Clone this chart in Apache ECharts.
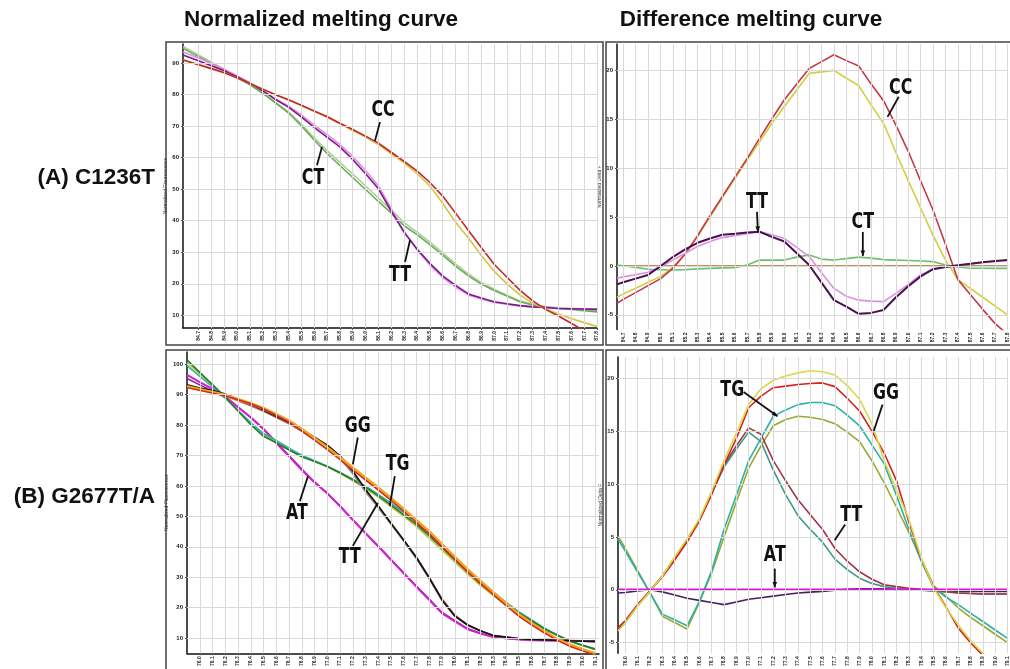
<!DOCTYPE html>
<html>
<head>
<meta charset="utf-8">
<script src="https://cdn.jsdelivr.net/npm/echarts@6.0.0/dist/echarts.min.js"></script>
<style>
  html, body { margin: 0; padding: 0; background: #fff; }
  #chart { width: 1010px; height: 669px; }
</style>
</head>
<body>
<div id="chart"></div>
<script>
// temperature tick labels (deg C)
var ticksA = [84.7, 84.8, 84.9, 85.0, 85.1, 85.2, 85.3, 85.4, 85.5, 85.6, 85.7, 85.8, 85.9, 86.0, 86.1, 86.2,
              86.3, 86.4, 86.5, 86.6, 86.7, 86.8, 86.9, 87.0, 87.1, 87.2, 87.3, 87.4, 87.5, 87.6, 87.7, 87.8];
var ticksB = [76.0, 76.1, 76.2, 76.3, 76.4, 76.5, 76.6, 76.7, 76.8, 76.9, 77.0, 77.1, 77.2, 77.3, 77.4, 77.5,
              77.6, 77.7, 77.8, 77.9, 78.0, 78.1, 78.2, 78.3, 78.4, 78.5, 78.6, 78.7, 78.8, 78.9, 79.0, 79.1];
var yTicksTL = [10, 20, 30, 40, 50, 60, 70, 80, 90];
var yTicksBL = [10, 20, 30, 40, 50, 60, 70, 80, 90, 100];
var yTicksDiff = [-5, 0, 5, 10, 15, 20];

// x of each reading: first point sits on the axis, then one per tick
var tlX = [84.58].concat(ticksA);
var trX = [84.65].concat(ticksA);
var blX = [75.9].concat(ticksB);
var brX = [75.94].concat(ticksB);

// (A) C1236T normalized melting curve
var tlCC1 = [90.9, 89.4, 88.2, 86.9, 85.3, 83.5, 81.7, 79.9, 78.3, 76.6, 74.8, 73.0, 70.9, 68.9, 66.8, 64.6, 61.7, 58.8, 55.8, 52.1, 47.8, 42.4, 36.9, 31.5, 26.2, 22.1, 18.0, 14.6, 11.9, 9.8, 7.5, 5.1, 3.0];
var tlCC2 = [91.0, 89.6, 88.3, 87.0, 85.3, 83.5, 81.7, 79.9, 78.3, 76.5, 74.7, 72.8, 70.7, 68.6, 66.5, 64.1, 61.2, 58.3, 55.0, 51.0, 45.5, 39.5, 34.5, 29.0, 24.0, 20.0, 16.5, 13.8, 12.0, 10.4, 9.0, 7.7, 6.5];
var tlCT1 = [94.6, 92.0, 89.8, 87.7, 85.4, 83.1, 80.4, 77.3, 74.2, 70.1, 65.6, 61.3, 57.5, 53.7, 49.9, 46.1, 42.4, 38.4, 35.6, 32.4, 29.1, 25.6, 22.5, 19.9, 17.9, 16.1, 14.3, 13.3, 12.6, 12.2, 11.9, 11.5, 11.1];
var tlCT2 = [95.2, 92.5, 90.2, 88.0, 85.6, 83.2, 80.5, 77.5, 74.5, 70.6, 66.3, 62.2, 58.5, 54.8, 51.0, 47.2, 43.4, 39.4, 36.4, 33.2, 29.8, 26.3, 23.1, 20.4, 18.3, 16.4, 14.6, 13.5, 12.8, 12.4, 12.1, 11.8, 11.5];
var tlTT1 = [92.5, 90.7, 89.1, 87.5, 85.6, 83.6, 81.2, 78.4, 76.0, 72.9, 69.6, 66.5, 63.4, 59.4, 54.9, 50.1, 43.0, 36.3, 31.0, 26.5, 22.5, 19.5, 16.8, 15.5, 14.3, 13.7, 13.1, 12.7, 12.5, 12.2, 12.1, 12.0, 11.9];
var tlTT2 = [93.5, 91.6, 89.8, 88.0, 85.9, 83.7, 81.2, 78.6, 76.4, 73.5, 70.4, 67.3, 64.2, 60.3, 55.9, 51.0, 43.8, 36.5, 30.8, 26.0, 22.0, 19.0, 16.5, 15.2, 14.1, 13.5, 13.0, 12.7, 12.5, 12.3, 12.2, 12.1, 12.0];

// (A) C1236T difference curve
var trCC1 = [-3.82, -3.42, -2.73, -2.01, -1.32, -0.25, 1.23, 3.09, 5.14, 7.1, 9.06, 11.0, 13.05, 15.05, 17.0, 18.6, 20.2, 20.9, 21.6, 21.0, 20.45, 18.6, 16.9, 14.4, 11.7, 8.66, 5.7, 2.2, -1.4, -2.92, -4.44, -5.9, -7.0];
var trCC2 = [-3.2, -2.86, -2.28, -1.67, -1.09, -0.14, 1.23, 3.0, 5.0, 7.0, 8.9, 10.8, 12.7, 14.6, 16.3, 18.0, 19.7, 19.85, 20.0, 19.2, 18.45, 16.45, 14.6, 11.6, 8.7, 5.9, 3.1, 0.6, -1.4, -2.3, -3.2, -4.1, -5.0];
var trTT1 = [-1.88, -1.67, -1.3, -0.92, -0.03, 0.91, 1.7, 2.37, 2.8, 3.19, 3.3, 3.43, 3.5, 2.98, 2.5, 1.3, 0.1, -1.7, -3.5, -4.17, -4.9, -4.8, -4.5, -3.2, -2.07, -1.07, -0.33, -0.1, 0.07, 0.22, 0.37, 0.5, 0.6];
var trTT2 = [-1.26, -1.12, -0.9, -0.65, -0.1, 0.6, 1.3, 2.0, 2.5, 2.9, 3.1, 3.3, 3.5, 3.2, 2.8, 1.9, 0.96, -0.7, -2.3, -3.1, -3.5, -3.6, -3.65, -2.8, -1.9, -0.9, -0.3, -0.1, 0.05, 0.2, 0.35, 0.45, 0.55];
var trCT1 = [0.1, 0.02, -0.15, -0.34, -0.38, -0.41, -0.38, -0.3, -0.25, -0.2, -0.17, 0.1, 0.6, 0.6, 0.6, 0.9, 1.13, 0.7, 0.6, 0.75, 0.9, 0.8, 0.65, 0.6, 0.55, 0.5, 0.44, 0.1, -0.1, -0.24, -0.24, -0.25, -0.25];
var trCT2 = [0, 0, 0, 0, 0, 0, 0, 0, 0, 0, 0, 0, 0, 0, 0, 0, 0, 0, 0, 0, 0, 0, 0, 0, 0, 0, 0, 0, 0, 0, 0, 0, 0];

// (B) G2677T/A normalized melting curve
var blGG1 = [92.7, 91.7, 90.8, 89.8, 88.4, 87.1, 85.5, 83.5, 81.4, 78.6, 75.6, 72.6, 69.3, 65.9, 62.6, 59.3, 55.9, 52.3, 48.6, 44.9, 40.7, 36.5, 32.5, 28.7, 25.0, 21.4, 17.8, 14.9, 12.2, 9.7, 7.8, 6.3, 4.9];
var blGG2 = [92.3, 91.4, 90.5, 89.6, 88.3, 87.0, 85.3, 83.2, 81.0, 78.1, 75.0, 71.9, 68.6, 65.2, 61.9, 58.6, 55.2, 51.6, 47.9, 44.2, 40.0, 35.8, 31.8, 28.0, 24.3, 20.7, 17.2, 14.3, 11.7, 9.3, 7.3, 5.8, 4.4];
var blTG1 = [101.4, 97.3, 93.3, 89.2, 84.6, 80.1, 76.3, 74.2, 71.8, 69.6, 68.0, 66.4, 64.3, 62.0, 59.6, 56.7, 53.7, 50.5, 47.3, 43.6, 39.7, 35.7, 31.7, 27.9, 24.6, 21.3, 18.3, 15.7, 13.1, 11.0, 9.0, 7.6, 6.3];
var blTG2 = [99.5, 96.0, 92.5, 88.8, 84.8, 80.8, 77.2, 74.9, 72.4, 70.1, 68.3, 66.5, 64.4, 62.2, 59.9, 57.2, 54.3, 51.2, 48.0, 44.3, 40.4, 36.4, 32.4, 28.6, 25.1, 21.8, 18.7, 16.0, 13.3, 11.1, 9.1, 7.7, 6.5];
var blTG3 = [100.5, 96.8, 93.0, 89.0, 84.7, 80.4, 76.8, 74.6, 72.1, 69.8, 68.1, 66.3, 64.1, 61.7, 59.2, 56.3, 53.2, 50.0, 46.6, 42.8, 38.9, 35.0, 31.0, 27.3, 24.0, 20.8, 17.9, 15.4, 12.9, 10.9, 8.9, 7.5, 6.2];
var blTT1 = [93.2, 92.2, 91.3, 90.2, 88.5, 86.8, 84.9, 82.9, 80.9, 78.5, 76.0, 73.4, 69.9, 64.9, 58.8, 53.4, 47.7, 42.1, 36.4, 29.7, 22.5, 17.2, 14.3, 12.4, 10.8, 10.3, 9.8, 9.5, 9.4, 9.3, 9.1, 9.0, 8.9];
var blTT2 = [92.8, 91.9, 91.0, 90.0, 88.4, 86.7, 84.8, 82.8, 80.7, 78.2, 75.6, 72.9, 69.2, 64.0, 58.0, 52.8, 47.3, 41.8, 36.0, 29.4, 22.3, 17.2, 14.2, 12.3, 10.8, 10.2, 9.7, 9.5, 9.3, 9.2, 9.1, 9.0, 8.9];
var blTT3 = [92.5, 91.6, 90.7, 89.7, 88.0, 86.3, 84.5, 82.5, 80.4, 77.9, 75.3, 72.6, 69.0, 64.2, 58.5, 53.2, 47.6, 42.2, 36.5, 29.9, 22.8, 17.5, 14.4, 12.4, 10.9, 10.3, 9.8, 9.6, 9.4, 9.3, 9.2, 9.1, 9.0];
var blAT1 = [96.5, 94.1, 91.9, 89.4, 85.9, 82.5, 78.6, 74.1, 69.7, 65.2, 61.1, 57.5, 53.3, 48.8, 44.4, 40.1, 35.6, 31.2, 26.8, 22.5, 18.1, 15.5, 12.9, 11.5, 10.3, 9.9, 9.5, 9.3, 9.2, 9.1, 9.0, 9.0, 8.9];
var blAT2 = [95.3, 93.2, 91.2, 89.0, 85.8, 82.5, 78.8, 74.4, 70.0, 65.5, 61.3, 57.6, 53.4, 48.9, 44.5, 40.2, 35.8, 31.4, 27.0, 22.7, 18.4, 15.7, 13.1, 11.6, 10.4, 9.9, 9.6, 9.4, 9.3, 9.2, 9.1, 9.0, 9.0];

// (B) G2677T/A difference curve
var brGG1 = [-3.9, -3.1, -1.5, -0.15, 1.3, 3.1, 4.8, 6.7, 9.3, 12.2, 14.8, 17.5, 19.0, 19.8, 20.2, 20.5, 20.7, 20.6, 20.3, 19.3, 18.0, 15.7, 12.2, 9.4, 6.7, 3.0, 0.2, -1.7, -3.3, -4.8, -6.0, -7.0, -8.0];
var brGG2 = [-3.6, -2.9, -1.4, -0.1, 1.2, 2.8, 4.5, 6.5, 9.0, 11.8, 14.3, 17.2, 18.3, 19.1, 19.25, 19.4, 19.5, 19.55, 19.2, 18.1, 16.9, 15.0, 12.9, 10.3, 6.4, 2.9, 0.3, -1.6, -3.6, -5.0, -6.2, -7.2, -8.2];
var brTG1 = [4.8, 3.64, 1.64, -0.3, -2.3, -2.84, -3.4, -1.1, 1.79, 5.7, 8.9, 12.2, 14.3, 16.4, 17.0, 17.5, 17.7, 17.7, 17.4, 16.5, 15.5, 13.7, 11.9, 8.9, 5.7, 2.7, 0.2, -0.7, -1.4, -2.2, -3.0, -3.8, -4.6];
var brTG2 = [5.1, 3.9, 1.8, -0.3, -2.5, -3.1, -3.7, -1.2, 1.6, 5.0, 8.3, 11.5, 13.6, 15.5, 16.1, 16.4, 16.3, 16.1, 15.7, 14.9, 14.0, 12.2, 10.1, 7.8, 5.4, 2.9, 0.4, -0.6, -1.7, -2.6, -3.4, -4.2, -5.0];
var brTT1 = [-3.7, -3.0, -1.4, -0.1, 1.3, 3.0, 4.7, 6.6, 9.2, 11.8, 13.6, 15.3, 14.7, 12.2, 10.3, 8.5, 7.1, 5.7, 3.9, 2.7, 1.7, 1.0, 0.47, 0.3, 0.15, 0.05, -0.05, -0.15, -0.3, -0.35, -0.4, -0.4, -0.4];
var brTT2 = [-3.8, -3.1, -1.5, -0.15, 1.3, 3.0, 4.7, 6.6, 9.1, 11.6, 13.3, 14.9, 14.0, 11.3, 9.0, 7.0, 5.7, 4.5, 2.9, 1.9, 1.1, 0.6, 0.3, 0.15, 0.05, 0.0, -0.1, -0.2, -0.3, -0.35, -0.4, -0.4, -0.4];
var brAT1 = [-0.3, -0.25, -0.1, 0.0, -0.2, -0.5, -0.8, -1.0, -1.2, -1.4, -1.15, -0.9, -0.75, -0.6, -0.45, -0.3, -0.22, -0.15, -0.05, 0.05, 0.1, 0.1, 0.1, 0.05, 0.0, -0.05, -0.1, -0.15, -0.15, -0.15, -0.15, -0.15, -0.15];
var brAT2 = [0, 0, 0, 0, 0, 0, 0, 0, 0, 0, 0, 0, 0, 0, 0, 0, 0, 0, 0, 0, 0, 0, 0, 0, 0, 0, 0, 0, 0, 0, 0, 0, 0];

// genotype call-outs, in data units of each panel
var notes = [
  { g: 0, text: 'CC', at: [86.136, 75.1], from: [86.112, 71.3], to: [86.073, 65.3] },
  { g: 0, text: 'CT', at: [85.591, 53.5], from: [85.622, 57.6], to: [85.661, 63.4] },
  { g: 0, text: 'TT', at: [86.268, 22.8], from: [86.307, 26.9], to: [86.346, 33.9] },
  { g: 1, text: 'CC', at: [86.938, 18.2], from: [86.923, 17.3], to: [86.832, 15.25] },
  { g: 1, text: 'TT', at: [85.779, 6.55], from: [85.779, 5.53], to: [85.787, 3.48], arrow: true },
  { g: 1, text: 'CT', at: [86.633, 4.5], from: [86.633, 3.48], to: [86.633, 1.02], arrow: true },
  { g: 2, text: 'GG', at: [77.239, 79.5], from: [77.239, 75.9], to: [77.2, 67.1] },
  { g: 2, text: 'TG', at: [77.552, 67.1], from: [77.529, 63.2], to: [77.49, 53.4] },
  { g: 2, text: 'AT', at: [76.761, 51.1], from: [76.785, 55.0], to: [76.848, 63.2] },
  { g: 2, text: 'TT', at: [77.176, 36.4], from: [77.2, 40.3], to: [77.396, 54.4] },
  { g: 3, text: 'TG', at: [76.867, 18.9], from: [76.959, 18.7], to: [77.234, 16.4], arrow: true },
  { g: 3, text: 'GG', at: [78.114, 18.6], from: [78.086, 17.5], to: [78.015, 15.0] },
  { g: 3, text: 'TT', at: [77.832, 7.0], from: [77.783, 6.17], to: [77.698, 4.68] },
  { g: 3, text: 'AT', at: [77.212, 3.3], from: [77.212, 2.0], to: [77.212, 0.22], arrow: true }
];

function pts(xs, ys) {
  return xs.map(function (x, i) { return [x, ys[i]]; });
}

function line(gi, xs, ys, color, w) {
  return {
    type: 'line', xAxisIndex: gi, yAxisIndex: gi,
    data: pts(xs, ys), symbol: 'none', silent: true,
    lineStyle: { color: color, width: w || 1.6 },
    itemStyle: { color: color }
  };
}

// grid lines at the tick values (the axis' own split lines ignore customValues)
function gridLines(gi, xt, yt) {
  var d = xt.map(function (t) { return { xAxis: t }; })
    .concat(yt.map(function (t) { return { yAxis: t }; }));
  return {
    type: 'line', xAxisIndex: gi, yAxisIndex: gi, data: [], z: 1, silent: true,
    markLine: {
      silent: true, symbol: ['none', 'none'], animation: false,
      label: { show: false },
      lineStyle: { color: '#d9d9d9', width: 1, type: 'solid' },
      emphasis: { disabled: true },
      data: d
    }
  };
}

function xAx(gi, min, max, ticks) {
  return {
    type: 'value', gridIndex: gi, min: min, max: max,
    axisLine: { lineStyle: { color: '#111', width: 1.5 } },
    axisTick: { customValues: ticks, length: 2, lineStyle: { color: '#555' } },
    axisLabel: {
      customValues: ticks, rotate: 90, fontSize: 5, margin: 3, color: '#222', fontWeight: 'bold',
      formatter: function (v) { return v.toFixed(1); }
    },
    splitLine: { show: false }
  };
}

function yAx(gi, min, max, ticks, name) {
  return {
    type: 'value', gridIndex: gi, min: min, max: max,
    name: name, nameLocation: 'middle', nameGap: 14,
    nameTextStyle: { fontSize: 5, color: '#333' },
    axisLine: { show: true, lineStyle: { color: '#111', width: 1.5 } },
    axisTick: { show: true, customValues: ticks, length: 2, lineStyle: { color: '#555' } },
    axisLabel: { customValues: ticks, fontSize: 6, margin: 4, color: '#222', fontWeight: 'bold' },
    splitLine: { show: false }
  };
}

var chart = echarts.init(document.getElementById('chart'));

chart.setOption({
  backgroundColor: '#ffffff',
  animation: false,
  grid: [
    { left: 183, top: 44, width: 414, height: 284 },
    { left: 617, top: 44, width: 413, height: 285.5 },
    { left: 187, top: 352, width: 412, height: 303 },
    { left: 618, top: 357, width: 449, height: 301 }
  ],
  xAxis: [
    xAx(0, 84.58, 87.8, ticksA),
    xAx(1, 84.65, 87.8, ticksA),
    xAx(2, 75.9, 79.13, ticksB),
    xAx(3, 75.94, 79.1, ticksB)
  ],
  yAxis: [
    yAx(0, 6, 96, yTicksTL, 'Normalized Fluorescence'),
    yAx(1, -6.5, 22.7, yTicksDiff, 'Normalized Delta F'),
    yAx(2, 5, 104, yTicksBL, 'Normalized Fluorescence'),
    yAx(3, -6, 22, yTicksDiff, 'Normalized Delta F')
  ],
  series: [
    gridLines(0, ticksA, yTicksTL),
    gridLines(1, ticksA, yTicksDiff),
    gridLines(2, ticksB, yTicksBL),
    gridLines(3, ticksB, yTicksDiff),

    line(0, tlX, tlCT2, '#a9d08e'),
    line(0, tlX, tlCT1, '#6aaa5a'),
    line(0, tlX, tlTT2, '#e58ae5'),
    line(0, tlX, tlTT1, '#7a1a8c'),
    line(0, tlX, tlCC2, '#d6c33c'),
    line(0, tlX, tlCC1, '#c0272d'),

    line(1, trX, trCT2, '#e8a860'),
    line(1, trX, trCT1, '#6fbf6f'),
    line(1, trX, trCC2, '#d2cf3a'),
    line(1, trX, trCC1, '#c4384a'),
    line(1, trX, trTT2, '#dc8fdc'),
    line(1, trX, trTT1, '#4a1050', 2),

    line(2, blX, blAT2, '#7a2a8a'),
    line(2, blX, blAT1, '#d21fd2', 2),
    line(2, blX, blTG3, '#b6c334'),
    line(2, blX, blTG2, '#2fb3b0'),
    line(2, blX, blTG1, '#2a7a2a'),
    line(2, blX, blTT3, '#b25a5a'),
    line(2, blX, blTT2, '#8c8c8c'),
    line(2, blX, blTT1, '#111111'),
    line(2, blX, blGG1, '#f0a41e', 3),
    line(2, blX, blGG2, '#d42222', 1.4),

    line(3, brX, brAT1, '#4a2060'),
    line(3, brX, brTG2, '#9aa830'),
    line(3, brX, brTG1, '#2db0a6'),
    line(3, brX, brTT2, '#3a9a8a'),
    line(3, brX, brTT1, '#a33345'),
    line(3, brX, brGG2, '#d62020'),
    line(3, brX, brGG1, '#d8d840'),
    line(3, brX, brAT2, '#e010e0', 2.6)
  ]
});

// frames, headings and call-outs drawn on top
var g = [
  { type: 'rect', shape: { x: 166, y: 42, width: 437, height: 303 }, style: { fill: 'none', stroke: '#444', lineWidth: 1.5 } },
  { type: 'rect', shape: { x: 606, y: 42, width: 430, height: 303 }, style: { fill: 'none', stroke: '#444', lineWidth: 1.5 } },
  { type: 'rect', shape: { x: 166, y: 350, width: 437, height: 330 }, style: { fill: 'none', stroke: '#444', lineWidth: 1.5 } },
  { type: 'rect', shape: { x: 606, y: 350, width: 430, height: 330 }, style: { fill: 'none', stroke: '#444', lineWidth: 1.5 } },
  { type: 'text', x: 321, y: 20, style: { text: 'Normalized melting curve', font: 'bold 22.5px "Liberation Sans"', fill: '#111', align: 'center', verticalAlign: 'middle' } },
  { type: 'text', x: 751, y: 20, style: { text: 'Difference melting curve', font: 'bold 22.5px "Liberation Sans"', fill: '#111', align: 'center', verticalAlign: 'middle' } },
  { type: 'text', x: 155, y: 178, style: { text: '(A) C1236T', font: 'bold 22.5px "Liberation Sans"', fill: '#111', align: 'right', verticalAlign: 'middle' } },
  { type: 'text', x: 155, y: 497, style: { text: '(B) G2677T/A', font: 'bold 22.5px "Liberation Sans"', fill: '#111', align: 'right', verticalAlign: 'middle' } }
];

notes.forEach(function (n) {
  var p = chart.convertToPixel({ gridIndex: n.g }, n.at);
  var a = chart.convertToPixel({ gridIndex: n.g }, n.from);
  var b = chart.convertToPixel({ gridIndex: n.g }, n.to);
  g.push({ type: 'text', x: p[0], y: p[1], scaleX: 0.72, z: 100,
    style: { text: n.text, font: 'bold 22px "DejaVu Sans"', fill: '#111', align: 'center', verticalAlign: 'middle' } });
  g.push({ type: 'line', z: 100, shape: { x1: a[0], y1: a[1], x2: b[0], y2: b[1] }, style: { stroke: '#111', lineWidth: 1.8 } });
  if (n.arrow) {
    var ang = Math.atan2(b[1] - a[1], b[0] - a[0]);
    var s = 6;
    g.push({ type: 'polygon', z: 100, shape: { points: [
      [b[0], b[1]],
      [b[0] - s * Math.cos(ang - 0.4), b[1] - s * Math.sin(ang - 0.4)],
      [b[0] - s * Math.cos(ang + 0.4), b[1] - s * Math.sin(ang + 0.4)]
    ] }, style: { fill: '#111' } });
  }
});

chart.setOption({ graphic: g });
</script>
</body>
</html>
